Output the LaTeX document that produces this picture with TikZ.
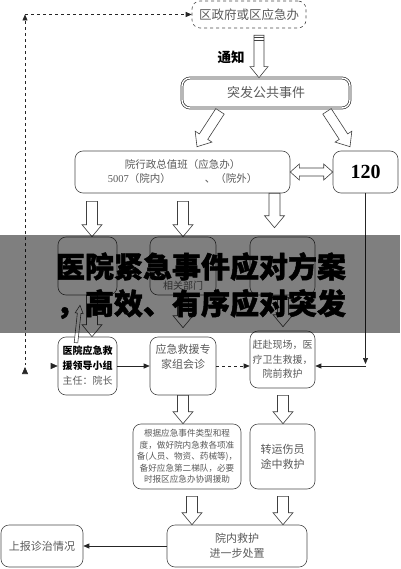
\documentclass[tikz,border=0pt]{standalone}
\usepackage{fontspec}
\setmainfont{Noto Sans CJK SC}
\newfontfamily\tnr{Liberation Serif}
\newfontfamily\banfont{Noto Sans CJK SC}[BoldFeatures={FakeBold=1.5}]
\usetikzlibrary{calc,arrows.meta}
\definecolor{bord}{HTML}{4A4A4A}
\definecolor{txt}{HTML}{5A5A5A}
\newcommand\barrow[5]{%
  \coordinate (ba) at (#1);
  \coordinate (bb) at (#2);
  \coordinate (bm) at ($(bb)!#5!(ba)$);
  \draw[blk] ($(ba)!#3!90:(bb)$) -- ($(bm)!#3!-90:(ba)$) -- ($(bm)!#4!-90:(ba)$) -- (bb)
    -- ($(bm)!#4!90:(ba)$) -- ($(bm)!#3!90:(ba)$) -- ($(ba)!#3!-90:(bb)$) -- cycle;
}
\begin{document}
\begin{tikzpicture}[x=1pt,y=-1pt,
  box/.style={draw=bord, line width=0.6pt, rounded corners=8pt, align=center, text=txt, inner sep=1pt},
  blk/.style={draw=black!75, line width=0.6pt, fill=white, line join=miter},
  conn/.style={draw=black!85, line width=0.7pt},
  tip/.style={-{Triangle[length=6pt,width=5pt]}},
  dbl/.style={draw=black!85, double=white, double distance=1.6pt, line width=0.6pt},
  bantxt/.style={font=\banfont\fontsize{29}{37}\selectfont\bfseries, text=black, inner sep=0pt}
]
\useasboundingbox (0,0) rectangle (400,569);
\fill[white] (0,0) rectangle (400,569);

% nodes
\node[box, dashed, minimum width=114pt, minimum height=27pt, font=\fontsize{12.5}{15}\selectfont] (top) at (249,14.5) {区政府或区应急办};
\node[box, double, double distance=1.4pt, line width=0.7pt, draw=black!80, minimum width=168pt, minimum height=30pt, font=\fontsize{13}{15}\selectfont] (event) at (266,93) {突发公共事件};
\node[box, minimum width=215pt, minimum height=42pt, font=\fontsize{10.5}{14}\selectfont] (duty) at (182.5,172) {院行政总值班（应急办）\\{\tnr 5007}（院内）\hspace{34pt}、（院外）};
\node[box, text=black, minimum width=65pt, minimum height=42pt, font=\tnr\fontsize{20}{22}\selectfont\bfseries] (n120) at (365.5,172) {120};
\node[box, minimum width=59pt, minimum height=58pt] (b1) at (87.5,266) {};
\node[box, minimum width=66pt, minimum height=58pt] (b2) at (183,266) {};
\node[font=\fontsize{10}{12}\selectfont, text=txt, inner sep=0pt] (b2t) at (183,285.5) {相关部门};
\node[box, minimum width=65pt, minimum height=58pt] (b3) at (282.5,266) {};
\node[box, minimum width=59pt, minimum height=58pt, font=\fontsize{10}{15}\selectfont] (lead) at (87.5,366) {\textcolor{black}{\bfseries 医院应急救}\\\textcolor{black}{\bfseries 援领导小组}\\主任：院长};
\node[box, minimum width=66pt, minimum height=58pt, font=\fontsize{11}{15}\selectfont] (expert) at (183,366) {应急救援专\\家组会诊\\[4pt]};
\node[box, minimum width=65pt, minimum height=57pt, font=\fontsize{10}{14.5}\selectfont] (scene) at (282.5,359.5) {赶赴现场，医\\疗卫生救援，\\院前救护};
\node[box, minimum width=108pt, minimum height=65pt, font=\fontsize{8.6}{11.5}\selectfont] (prep) at (187,456.5) {根据应急事件类型和程\\度，做好院内急救各项准\\备(人员、物资、药械等)，\\备好应急第二梯队，必要\\时报区应急办协调援助};
\node[box, minimum width=65pt, minimum height=65pt, font=\fontsize{11}{15}\selectfont] (transfer) at (282.5,456.5) {转运伤员\\途中救护};
\node[box, minimum width=140pt, minimum height=42pt, font=\fontsize{11}{15}\selectfont] (inhosp) at (237,546) {院内救护\\进一步处置};
\node[box, minimum width=82pt, minimum height=42pt, font=\fontsize{11}{15}\selectfont] (report) at (42,546) {上报诊治情况};
\node[font=\fontsize{13.5}{15}\selectfont\bfseries, text=black, inner sep=0pt] (tz) at (231,57) {通知};

% block arrows
\barrow{$(top.south)+(10,7)$}{$(event.north)+(-7,0)$}{5pt}{9pt}{11pt}
\draw[black!75, line width=0.5pt] (254,37.5) -- (264,37.5) (254,40) -- (264,40);
\barrow{$(event.south)+(-46,3)$}{$(duty.north)+(14.5,-4)$}{5pt}{10pt}{12pt}
\barrow{$(event.south)+(61,3)$}{$(n120.north)+(-15.5,-4)$}{5pt}{10pt}{12pt}
\barrow{$(duty.south -| b1.north)+(4.5,8)$}{$(b1.north)+(4.5,0)$}{5.5pt}{10pt}{12pt}
\barrow{$(duty.south)+(0.5,8)$}{$(b2.north)+(0,0)$}{5.5pt}{10pt}{12pt}
\barrow{$(duty.south -| b3.north)+(-8,0)$}{$(b3.north)+(-8,-9)$}{5.5pt}{10pt}{12pt}
\barrow{$(b1.south)+(4.5,0)$}{$(lead.north)+(4.5,0)$}{5.5pt}{10pt}{12pt}
\barrow{$(b2.south)+(0,2)$}{$(expert.north)+(0,-9)$}{5.5pt}{10pt}{12pt}
\barrow{$(b3.south)+(0.5,2)$}{$(scene.north)+(0.5,-4)$}{5.5pt}{10pt}{12pt}
\barrow{$(lead.north)+(-11.5,6)$}{$(b1.south)+(-7.5,10)$}{1.8pt}{4pt}{8pt}
\barrow{$(expert.south)+(0,0)$}{$(expert.south |- prep.north)$}{5.5pt}{10pt}{12pt}
\barrow{$(scene.south)+(0.5,7)$}{$(transfer.north)+(0.5,0)$}{5.5pt}{10pt}{12pt}
\barrow{$(prep.south)+(5,7)$}{$(prep.south |- inhosp.north)+(5,0)$}{5.5pt}{10pt}{12pt}
\barrow{$(transfer.south)+(0.5,7)$}{$(transfer.south |- inhosp.north)+(0.5,0)$}{5.5pt}{10pt}{12pt}
% double-headed arrow duty <-> 120
\draw[blk] (duty.east) -- ++(9,-8) -- ++(0,4) -- ($(n120.west)+(-9,-4)$) -- ++(0,-4) -- (n120.west)
  -- ++(-9,8) -- ++(0,-4) -- ($(duty.east)+(9,4)$) -- ++(0,4) -- cycle;

% thin connectors
\coordinate (cl) at (25,366);
\coordinate (corner) at (25,14.5);
\coordinate (c120) at (n120.south |- cl);
\draw[conn, dashed, tip] (cl) -- (corner);
\draw[conn, dashed, tip] (corner) -- (top.west);
\draw[dbl, shorten <=7pt, -{Triangle[length=7pt,width=6pt]}] (report.north -| cl) -- ($(cl)+(0,1)$);
\draw[dbl, -{Triangle[length=7pt,width=6pt]}] (cl) -- (cl -| lead.west);
\draw[conn, tip] (n120.south) -- ($(c120)+(0,-2)$);
\draw[conn, tip] (c120) -- (scene.east |- cl);
\draw[conn, tip] (lead.east |- cl) -- (expert.west |- cl);
\draw[conn, dashed, tip] (expert.east |- cl) -- (scene.west |- cl);
\draw[conn, tip] (inhosp.west) -- (report.east);

% overlay banner
\fill[black, opacity=0.5] (0,235) rectangle (400,333);
\node[bantxt] (ban1) at (201,266.5) {医院紧急事件应对方案};
\node[bantxt] (ban2) at (201,304) {，高效、有序应对突发};
\end{tikzpicture}
\end{document}
